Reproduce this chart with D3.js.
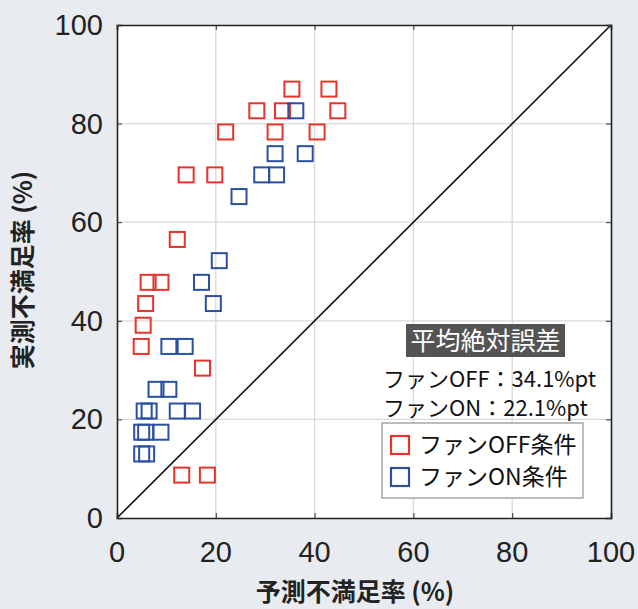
<!DOCTYPE html>
<html><head><meta charset="utf-8">
<script src="https://cdn.jsdelivr.net/npm/d3@7"></script>
<style>
body{margin:0;background:#e8ebf0;}
svg{display:block;}
</style></head>
<body>
<svg id="c" width="638" height="609"></svg>
<script>
const ticks = [0,20,40,60,80,100];
const offX = [35.4,42.9,28.3,33.5,44.7,22.0,32.0,40.5,14.0,19.8,12.2,6.3,8.9,5.8,5.3,4.9,17.3,13.1,18.3];
const offY = [87.0,87.0,82.6,82.6,82.6,78.3,78.3,78.3,69.6,69.6,56.5,47.8,47.8,43.5,39.1,34.8,30.4,8.7,8.7];
const onX = [36.2,32.0,38.1,29.3,32.3,24.7,20.7,17.1,19.5,10.5,13.8,7.9,10.5,5.5,6.5,12.2,15.3,5.0,5.8,8.9,5.0,6.0];
const onY = [82.6,73.9,73.9,69.6,69.6,65.2,52.2,47.8,43.5,34.8,34.8,26.1,26.1,21.7,21.7,21.7,21.7,17.4,17.4,17.4,13.0,13.0];
const seriesNames = ["ファンOFF条件","ファンON条件"];
const seriesColors = ["#e8332b","#2b50a3"];
const maeTitle = "平均絶対誤差";
const maeLines = ["ファンOFF：34.1%pt","ファンON：22.1%pt"];
const xTitle = "予測不満足率 (%)";
const yTitle = "実測不満足率 (%)";

const svg = d3.select("#c");
const L=117,R=611,T=25,B=518;
const x = d3.scaleLinear().domain([0,100]).range([L,R]);
const y = d3.scaleLinear().domain([0,100]).range([B,T]);
const jp = "'Noto Sans CJK JP', sans-serif";
const num = "'Liberation Sans', Arial, sans-serif";

svg.append("rect").attr("x",L).attr("y",T).attr("width",R-L).attr("height",B-T).attr("fill","#fff");
// grid
const g = svg.append("g");
ticks.slice(1,-1).forEach(t=>{
  g.append("line").attr("x1",x(t)).attr("x2",x(t)).attr("y1",T).attr("y2",B).attr("stroke","#d9d9d9").attr("stroke-width",1.3);
  g.append("line").attr("y1",y(t)).attr("y2",y(t)).attr("x1",L).attr("x2",R).attr("stroke","#d9d9d9").attr("stroke-width",1.3);
});
// diagonal
svg.append("line").attr("x1",x(0)).attr("y1",y(0)).attr("x2",x(100)).attr("y2",y(100)).attr("stroke","#111").attr("stroke-width",1.6);

// axes with inward ticks
const ax = (gen, tr) => svg.append("g").attr("transform",tr).call(gen.tickValues(ticks).tickSize(-5).tickFormat("")).call(s=>{s.select(".domain").attr("stroke","#222").attr("stroke-width",1.6);s.selectAll(".tick line").attr("stroke","#333");});
ax(d3.axisBottom(x),`translate(0,${B})`);
ax(d3.axisTop(x),`translate(0,${T})`);
ax(d3.axisLeft(y),`translate(${L},0)`);
ax(d3.axisRight(y),`translate(${R},0)`);

// tick labels
ticks.forEach(t=>{
  svg.append("text").attr("x",x(t)).attr("y",B+44).attr("text-anchor","middle").attr("font-family",num).attr("font-size",29).attr("fill","#222").text(t);
  svg.append("text").attr("x",L-14).attr("y",y(t)+10).attr("text-anchor","end").attr("font-family",num).attr("font-size",29).attr("fill","#222").text(t);
});

// axis titles
svg.append("text").attr("x",355).attr("y",601).attr("text-anchor","middle").attr("font-family",jp).attr("font-weight","bold").attr("font-size",25).attr("fill","#222").text(xTitle);
svg.append("text").attr("transform","translate(32,270) rotate(-90)").attr("text-anchor","middle").attr("font-family",jp).attr("font-weight","bold").attr("font-size",25).attr("fill","#222").text(yTitle);

// points
const S=15;
function pts(xs,ys,col){
  svg.append("g").selectAll("rect").data(xs.map((v,i)=>[v,ys[i]])).join("rect")
    .attr("x",d=>x(d[0])-S/2).attr("y",d=>y(d[1])-S/2).attr("width",S).attr("height",S)
    .attr("fill","none").attr("stroke",col).attr("stroke-width",2);
}
pts(offX,offY,seriesColors[0]);
pts(onX,onY,seriesColors[1]);

// MAE box
svg.append("rect").attr("x",406).attr("y",324).attr("width",159).attr("height",33).attr("fill","#545454");
svg.append("text").attr("x",485.5).attr("y",350).attr("text-anchor","middle").attr("font-family",jp).attr("font-size",25).attr("fill","#fff").text(maeTitle);
maeLines.forEach((s,i)=>{
  svg.append("text").attr("x",383).attr("y",387+i*29).attr("font-family",jp).attr("font-size",22).attr("fill","#111").text(s);
});

// legend
svg.append("rect").attr("x",382).attr("y",423).attr("width",201).attr("height",75).attr("fill","#fff").attr("stroke","#999").attr("stroke-width",1.3);
seriesNames.forEach((n,i)=>{
  const cy = 445+i*32;
  svg.append("rect").attr("x",391).attr("y",cy-9).attr("width",18).attr("height",18).attr("fill","none").attr("stroke",seriesColors[i]).attr("stroke-width",2.2);
  svg.append("text").attr("x",419).attr("y",cy+8).attr("font-family",jp).attr("font-size",23).attr("fill","#111").text(n);
});
</script>
</body></html>
